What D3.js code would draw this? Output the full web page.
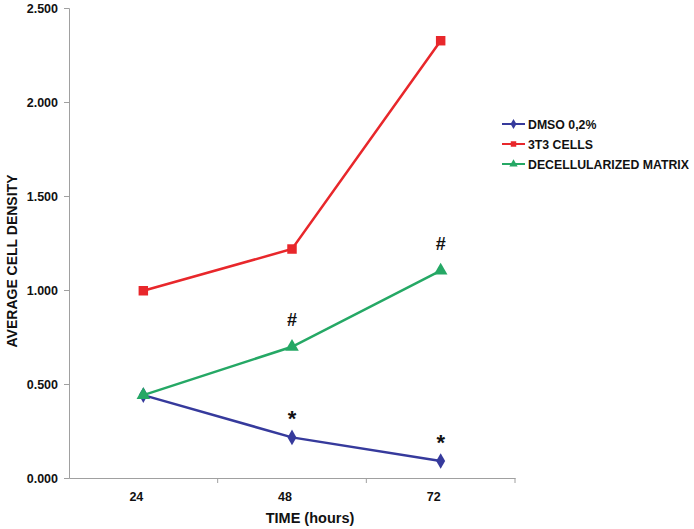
<!DOCTYPE html>
<html><head><meta charset="utf-8">
<script src="https://cdn.jsdelivr.net/npm/d3@7"></script>
<style>body{margin:0;background:#fff}svg{display:block}text{font-family:"Liberation Sans",Arial,sans-serif;font-weight:bold;fill:#111}</style>
</head><body>
<script>
const categories = ["24", "48", "72"];
const yTicks = [0, 0.5, 1.0, 1.5, 2.0, 2.5];
const seriesNames = ["DMSO 0,2%", "3T3 CELLS", "DECELLULARIZED MATRIX"];
const dmso = [0.441, 0.216, 0.090];
const t3cells = [0.996, 1.218, 2.326];
const decell = [0.441, 0.698, 1.103];
const colors = ["#363a9c", "#e8272b", "#25a865"];
const symbols = [d3.symbolDiamond, d3.symbolSquare, d3.symbolTriangle];
// annotations: [seriesIndex, categoryIndex, label]
const annotations = [[2, 1, "#"], [2, 2, "#"], [0, 1, "*"], [0, 2, "*"]];

(function () {
const W = 694, H = 529;
const mLeft = 69, mRight = 515, mTop = 8, mBottom = 478;
const svg = d3.select("body").append("svg").attr("width", W).attr("height", H);

const x = d3.scaleBand().domain(categories).range([mLeft, mRight]).padding(0);
const y = d3.scaleLinear().domain([0, 2.5]).range([mBottom, mTop]);
const fmt = v => d3.format(".3f")(v);

// Y axis
const yAxis = svg.append("g").attr("transform", `translate(${mLeft},0)`)
  .call(d3.axisLeft(y).tickValues(yTicks).tickSize(5).tickPadding(6).tickFormat(fmt));
yAxis.select(".domain").attr("stroke", "#a0a0a0");
yAxis.selectAll(".tick line").attr("stroke", "#a0a0a0");
yAxis.selectAll("text").attr("font-size", 12.5).attr("fill", "#111");

// X axis
const xAxis = svg.append("g").attr("transform", `translate(0,${mBottom})`)
  .call(d3.axisBottom(x).tickSize(0).tickPadding(14));
xAxis.select(".domain").attr("stroke", "#a0a0a0");
xAxis.selectAll("text").attr("font-size", 12.5).attr("fill", "#111").attr("dx", -7);
const bounds = categories.map(c => x(c)).concat([x(categories[categories.length-1]) + x.bandwidth()]);
xAxis.selectAll(".bt").data(bounds.slice(1)).enter().append("line")
  .attr("x1", d => d).attr("x2", d => d).attr("y1", 0).attr("y2", 5).attr("stroke", "#a0a0a0");

// Titles
svg.append("text").attr("x", 310).attr("y", 523).attr("text-anchor", "middle").attr("font-size", 14.5).text("TIME (hours)");
svg.append("text").attr("transform", "translate(17,261) rotate(-90)").attr("text-anchor", "middle").attr("font-size", 14).text("AVERAGE CELL DENSITY");

const allSeries = [dmso, t3cells, decell];
const cx = c => x(c) + x.bandwidth() / 2;
const line = d3.line().x((d, i) => cx(categories[i])).y(d => y(d));

allSeries.forEach((vals, si) => {
  svg.append("path").datum(vals).attr("d", line).attr("fill", "none")
    .attr("stroke", colors[si]).attr("stroke-width", 2.5);
  svg.selectAll(null).data(vals).enter().append("path")
    .attr("d", d3.symbol().type(symbols[si]).size(si === 0 ? 70 : si === 1 ? 90 : 80))
    .attr("transform", (d, i) => `translate(${cx(categories[i])},${y(d)})`)
    .attr("fill", colors[si]);
});

// Annotations
annotations.forEach(([si, ci, lab]) => {
  const v = allSeries[si][ci];
  svg.append("text").attr("x", cx(categories[ci])).attr("y", y(v) - (lab === "#" ? 21 : 11))
    .attr("text-anchor", "middle").attr("font-size", lab === "#" ? 18 : 22).text(lab);
});

// Legend
const leg = svg.append("g");
seriesNames.forEach((name, i) => {
  const ly = 124 + i * 20;
  leg.append("line").attr("x1", 502).attr("x2", 525).attr("y1", ly).attr("y2", ly)
    .attr("stroke", colors[i]).attr("stroke-width", 2);
  leg.append("path").attr("d", d3.symbol().type(symbols[i]).size(30)).attr("transform", `translate(513.5,${ly})`).attr("fill", colors[i]);
  leg.append("text").attr("x", 528).attr("y", ly + 4.5).attr("font-size", 12.3).text(name);
});
})();
</script>
</body></html>
